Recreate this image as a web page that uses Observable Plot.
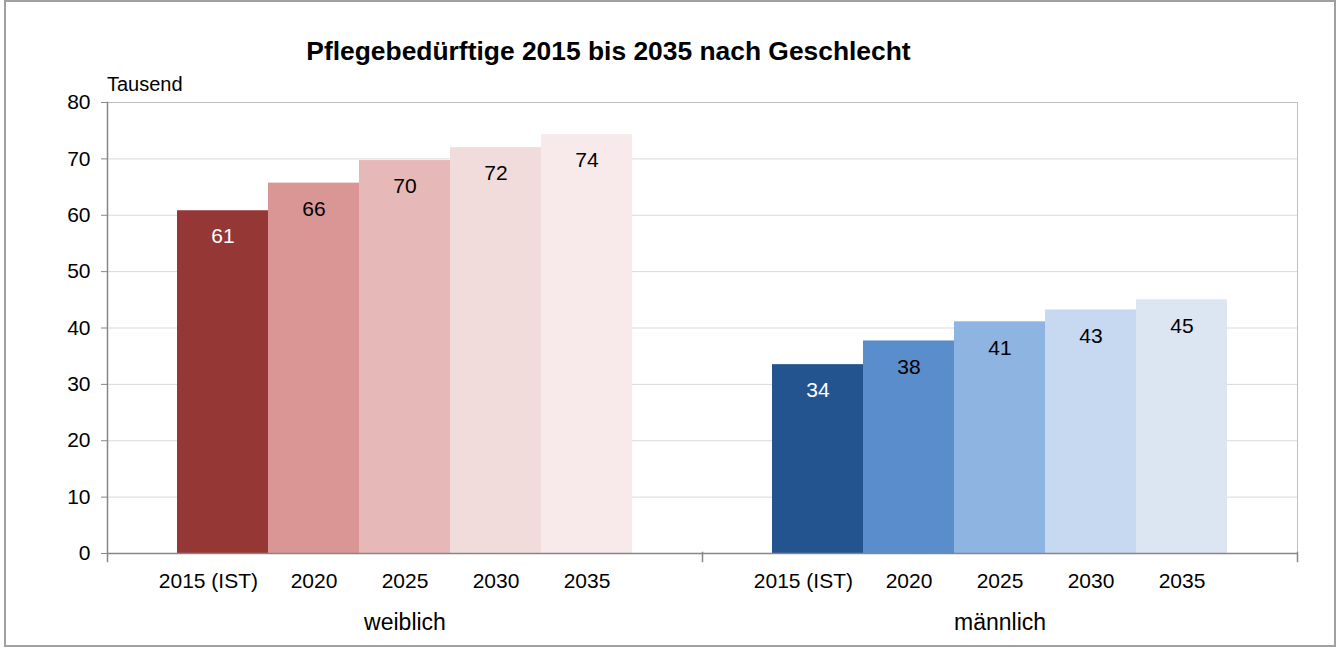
<!DOCTYPE html>
<html>
<head>
<meta charset="utf-8">
<script src="https://cdn.jsdelivr.net/npm/d3@7"></script>
<script src="https://cdn.jsdelivr.net/npm/@observablehq/plot@0.6"></script>
<style>
  html, body { margin: 0; padding: 0; background: #fff; }
  #wrap { position: relative; width: 1338px; height: 648px; overflow: hidden; font-family: "Liberation Sans", Arial, sans-serif; }
  #chart { position: absolute; left: 0; top: 0; }
  #border { position: absolute; left: 4px; top: 0px; width: 1332px; height: 647px; box-sizing: border-box; border: 2px solid #a0a0a0; pointer-events: none; }
  #title { position: absolute; left: 0; top: 38px; width: 1217px; text-align: center; font-weight: bold; font-size: 26.4px; line-height: 26px; color: #000; white-space: nowrap; }
  #unit { position: absolute; left: 107px; top: 74px; font-size: 20px; line-height: 20px; color: #000; white-space: nowrap; }
</style>
</head>
<body>
<div id="wrap">
  <div id="chart"></div>
  <div id="title">Pflegebedürftige 2015 bis 2035 nach Geschlecht</div>
  <div id="unit">Tausend</div>
  <div id="border"></div>
</div>
<script>
// ---- data ----
const groups = ["weiblich", "männlich"];
const years = ["2015 (IST)", "2020", "2025", "2030", "2035"];
const femaleValues = [60.8, 65.7, 69.7, 72.0, 74.3];
const maleValues = [33.5, 37.7, 41.1, 43.2, 45.0];
const femaleColors = ["#953735", "#DA9694", "#E6B9B8", "#F2DCDB", "#F8EAEA"];
const maleColors = ["#245490", "#5A8DCB", "#8EB4E2", "#C6D9F0", "#DCE6F2"];
const labelColors = ["#ffffff", "#000000", "#000000", "#000000", "#000000"];
const yTicks = [0, 10, 20, 30, 40, 50, 60, 70, 80];

const rows = [];
years.forEach((yr, i) => rows.push({group: groups[0], year: yr, value: femaleValues[i], color: femaleColors[i], label: labelColors[i]}));
years.forEach((yr, i) => rows.push({group: groups[1], year: yr, value: maleValues[i], color: maleColors[i], label: labelColors[i]}));

const axisColor = "#868686";
const gridColor = "#D9D9D9";
const borderColor = "#C0C0C0";
const nbsp = "\u00a0";

const chart = Plot.plot({
  width: 1338,
  height: 648,
  marginLeft: 106,
  marginRight: 41,
  marginTop: 102,
  marginBottom: 95,
  style: {fontFamily: "'Liberation Sans', Arial, sans-serif", fontSize: "21px", color: "#000", background: "transparent", overflow: "visible"},
  fx: {domain: groups, padding: 0, label: null},
  x: {domain: years, paddingInner: 0, paddingOuter: 0.748, label: null},
  y: {domain: [0, 80], label: null},
  color: {type: "identity"},
  marks: [
    Plot.gridY(yTicks.filter(d => d > 0), {stroke: gridColor, strokeOpacity: 1}),
    Plot.frame({anchor: "top", stroke: borderColor, strokeOpacity: 1}),
    Plot.frame({anchor: "right", facetAnchor: "right", stroke: borderColor, strokeOpacity: 1}),
    Plot.barY(rows, {fx: "group", x: "year", y: "value", fill: "color"}),
    Plot.text(rows, {fx: "group", x: "year", y: "value", text: d => String(Math.round(d.value)), fill: "label", dy: 26, fontSize: 21}),
    Plot.ruleY([0], {stroke: axisColor, strokeWidth: 1.5}),
    Plot.frame({anchor: "left", facetAnchor: "left", stroke: axisColor, strokeWidth: 1.5, insetBottom: -8}),
    Plot.frame({anchor: "left", facetAnchor: "right", stroke: axisColor, strokeWidth: 1.5, insetTop: 450, insetBottom: -8}),
    Plot.frame({anchor: "right", facetAnchor: "right", stroke: axisColor, strokeWidth: 1.5, insetTop: 450, insetBottom: -8}),
    Plot.axisY(yTicks, {tickSize: 6, tickPadding: 11, stroke: axisColor, label: null, fontSize: 21}),
    Plot.axisX({tickSize: 0, tickPadding: 20, label: null, fontSize: 21,
      tickFormat: d => d === years[0] ? d + nbsp.repeat(5) : d}),
    Plot.axisFx({anchor: "bottom", tickSize: 0, tickPadding: 60, label: null, fontSize: 23})
  ]
});
document.getElementById("chart").appendChild(chart);
</script>
</body>
</html>
